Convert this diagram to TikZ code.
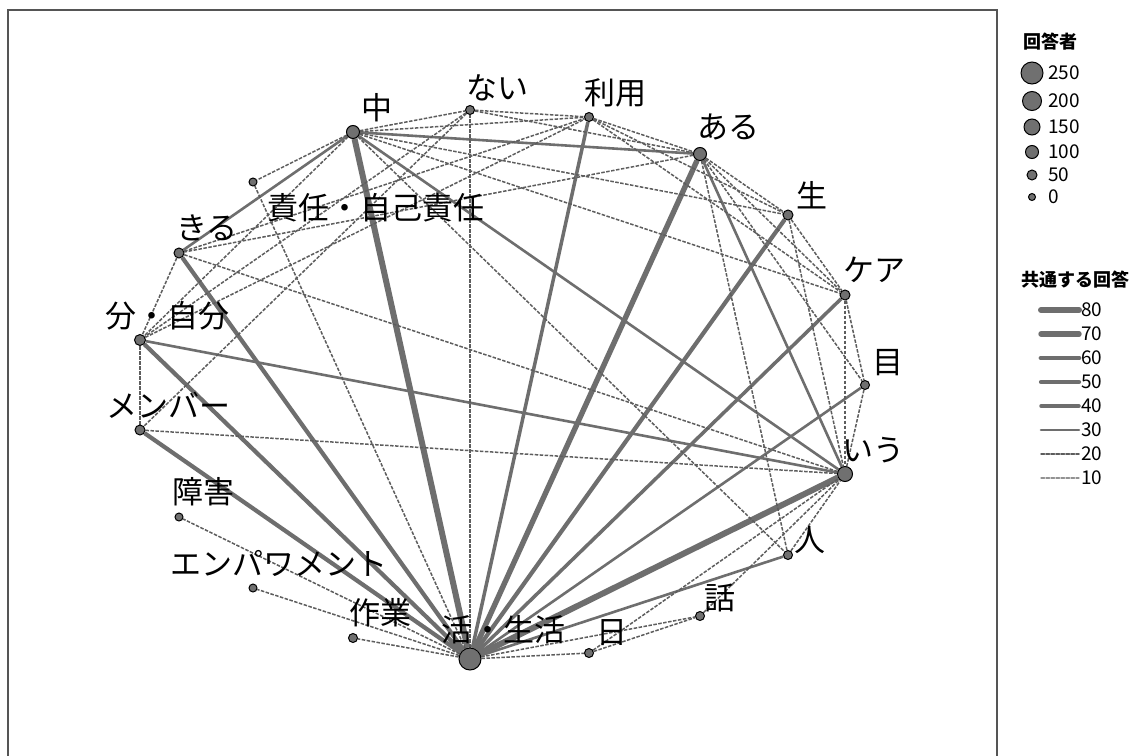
\documentclass[tikz,border=0pt]{standalone}
\usepackage{fontspec}
\setmainfont{Noto Sans CJK JP}
\usetikzlibrary{backgrounds}
\definecolor{edge}{HTML}{6E6E6E}
\definecolor{dot}{HTML}{707070}
\definecolor{frame}{HTML}{555555}
\tikzset{
  word/.style={circle, draw=black, line width=1pt, fill=dot, inner sep=0pt},
  lab/.style={font=\fontsize{31}{31}\selectfont, inner sep=0pt},
  leg/.style={font=\fontsize{19}{19}\selectfont, inner sep=0pt, anchor=west},
  legtitle/.style={font=\fontsize{18}{18}\selectfont\bfseries, inner sep=0pt},
  w80/.style={draw=edge, line width=6pt},
  w70/.style={draw=edge, line width=5.4pt},
  w60/.style={draw=edge, line width=4.8pt},
  w50/.style={draw=edge, line width=4.2pt},
  w40/.style={draw=edge, line width=3.5pt},
  w30/.style={draw=edge, line width=2.6pt},
  w20/.style={draw=edge!85!black, line width=1.5pt, dash pattern=on 3.5pt off 1.5pt},
  w10/.style={draw=edge!75, line width=1.2pt, dash pattern=on 3.5pt off 1.5pt}
}
\begin{document}
\begin{tikzpicture}[x=1pt,y=-1pt]
  \useasboundingbox (0,0) rectangle (1132,755);

  % words on the ring
  \node[word, minimum size=22pt] (hub) at (470,659) {};
  \node[word, minimum size=13pt] (naka) at (353,132) {};
  \node[word, minimum size=9pt] (nai) at (470,110) {};
  \node[word, minimum size=9pt] (riyou) at (589,117) {};
  \node[word, minimum size=13pt] (aru) at (700,154) {};
  \node[word, minimum size=10pt] (sei) at (788,215) {};
  \node[word, minimum size=10pt] (kea) at (845,295) {};
  \node[word, minimum size=9pt] (me) at (865,385) {};
  \node[word, minimum size=15pt] (iu) at (845,474) {};
  \node[word, minimum size=9pt] (hito) at (788,555) {};
  \node[word, minimum size=9pt] (hanashi) at (700,616) {};
  \node[word, minimum size=9pt] (hi) at (589,653) {};
  \node[word, minimum size=9pt] (sagyou) at (353,638) {};
  \node[word, minimum size=8pt] (empa) at (253,588) {};
  \node[word, minimum size=8pt] (shougai) at (179,517) {};
  \node[word, minimum size=10pt] (member) at (140,430) {};
  \node[word, minimum size=11pt] (jibun) at (140,340) {};
  \node[word, minimum size=10pt] (kiru) at (179,253) {};
  \node[word, minimum size=8pt] (sekinin) at (253,182) {};

  % labels
  \node[lab] (lhub) at (503,630) {活・生活};
  \node[lab] (lnaka) at (377,108) {中};
  \node[lab] (lnai) at (497,88) {ない};
  \node[lab] (lriyou) at (615,93) {利用};
  \node[lab] (laru) at (728,127) {ある};
  \node[lab] (lsei) at (812,195) {生};
  \node[lab] (lkea) at (874,270) {ケア};
  \node[lab] (lme) at (888,363) {目};
  \node[lab] (liu) at (873,450) {いう};
  \node[lab] (lhito) at (810,540) {人};
  \node[lab] (lhanashi) at (720,598) {話};
  \node[lab] (lhi) at (612,633) {日};
  \node[lab] (lsagyou) at (380,613) {作業};
  \node[lab] (lempa) at (279,563) {エンパワメント};
  \node[lab] (lshougai) at (203,492) {障害};
  \node[lab] (lmember) at (168,405) {メンバー};
  \node[lab] (ljibun) at (167,316) {分・自分};
  \node[lab] (lkiru) at (207,228) {きる};
  \node[lab] (lsekinin) at (376,208) {責任・自己責任};

  % co-occurrence edges
  \begin{scope}[on background layer]
    \fill[white] (0,0) rectangle (1132,755);
    \draw[frame, line width=2pt] (8,10) rectangle (997,775);
    \foreach \a/\b in {hub/naka, hub/iu} \draw[w80] (\a) -- (\b);
    \draw[w70] (hub) -- (aru);
    \foreach \a/\b in {hub/jibun, hub/member, hub/kiru, hub/sei} \draw[w50] (\a) -- (\b);
    \foreach \a/\b in {hub/riyou, hub/kea} \draw[w40] (\a) -- (\b);
    \foreach \a/\b in {hub/me, hub/hito, naka/aru, naka/iu, jibun/iu, aru/iu, kiru/naka}
      \draw[w30] (\a) -- (\b);
    \foreach \a/\b in {hub/nai, hub/sekinin, hub/hanashi, hub/hi, hub/sagyou, hub/empa,
      hub/shougai, naka/nai, naka/riyou, naka/sei, naka/kea, naka/hito, naka/sekinin,
      naka/jibun, nai/riyou, nai/aru, nai/member, nai/jibun, riyou/aru, riyou/sei,
      riyou/kea, aru/sei, aru/kea, aru/me, aru/hito, aru/kiru, sei/kea, sei/iu, kea/me,
      kea/iu, me/iu, hito/iu, hanashi/iu, hi/iu, member/iu, kiru/iu, jibun/member,
      kiru/jibun, hi/hanashi, jibun/riyou, kiru/riyou}
      \draw[w20] (\a) -- (\b);
  \end{scope}

  % legend: respondents
  \node[legtitle] (tresp) at (1050,42) {回答者};
  \foreach \d/\y/\t in {22/73/250, 19/101/200, 16/127/150, 13/152/100, 10/175/50, 7/197/0} {
    \node[word, minimum size=\d pt] (r\t) at (1032,\y) {};
    \node[leg] (lr\t) at (1048,\y) {\t};
  }

  % legend: shared answers
  \node[legtitle] (tshared) at (1075,280) {共通する回答};
  \foreach \s/\y in {80/310, 70/334, 60/358, 50/382, 40/406, 30/430, 20/454, 10/478} {
    \coordinate (a\s) at (1041,\y);
    \coordinate (b\s) at (1079,\y);
    \draw[w\s, line cap=round] (a\s) -- (b\s);
    \node[leg] (ls\s) at (1081,\y) {\s};
  }
\end{tikzpicture}
\end{document}
